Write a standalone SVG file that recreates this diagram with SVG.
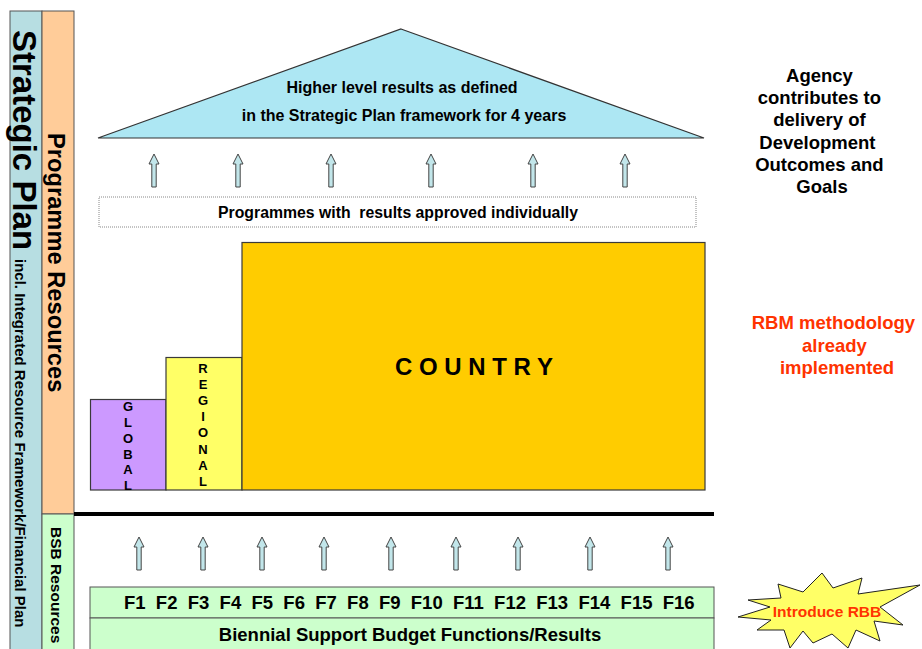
<svg xmlns="http://www.w3.org/2000/svg" width="922" height="649" viewBox="0 0 922 649">
  <style>
    text { font-family: "Liberation Sans", Arial, sans-serif; font-weight: bold; fill: #000; }
    .bar { stroke: #555; stroke-width: 1; }
    .box { stroke: #3a3a3a; stroke-width: 1.2; }
    .mid { text-anchor: middle; }
    .red { fill: #ff3300; }
    .letter { font-size: 13px; text-anchor: middle; }
  </style>
  <defs>
    <!-- block arrow, tip at origin, pointing up -->
    <path id="upArrow" d="M0,0 L5,10 L2.2,10 L2.2,33 L-2.2,33 L-2.2,10 L-5,10 Z" fill="#c2e6ea" stroke="#444" stroke-width="1"/>
  </defs>

  <rect width="922" height="649" fill="#ffffff"/>

  <!-- left resource bars -->
  <g id="strategic-plan-bar">
    <rect class="bar" x="10" y="11" width="32" height="650" fill="#b7dee2"/>
    <text transform="translate(13,30) rotate(90)" font-size="33">Strategic Plan</text>
    <text transform="translate(15,259) rotate(90)" font-size="15">incl. Integrated Resource Framework/Financial Plan</text>
  </g>
  <g id="programme-resources-bar">
    <rect class="bar" x="42" y="11" width="32" height="503" fill="#ffcc99"/>
    <text transform="translate(48,133) rotate(90)" font-size="23.7">Programme Resources</text>
  </g>
  <g id="bsb-resources-bar">
    <rect class="bar" x="42" y="514" width="32" height="147" fill="#ccffcc"/>
    <text transform="translate(51,527) rotate(90)" font-size="15.5">BSB Resources</text>
  </g>

  <!-- strategic plan roof -->
  <g id="higher-level-results">
    <polygon points="401,29 704,138 98,138" fill="#ade7f3" stroke="#333" stroke-width="1.2"/>
    <text class="mid" x="402" y="93" font-size="16">Higher level results as defined</text>
    <text class="mid" x="404" y="121" font-size="16">in the Strategic Plan framework for 4 years</text>
  </g>

  <g id="programmes-box">
    <rect x="99" y="197" width="597" height="30" fill="#fff" stroke="#888" stroke-width="1" stroke-dasharray="1,1"/>
    <text class="mid" x="398" y="218" font-size="15.8" xml:space="preserve">Programmes with  results approved individually</text>
  </g>

  <g id="global">
    <rect class="box" x="90.5" y="399.5" width="75.5" height="90.5" fill="#cc99ff"/>
    <text class="letter" x="128" y="411">G</text>
    <text class="letter" x="128" y="426.5">L</text>
    <text class="letter" x="128" y="442.5">O</text>
    <text class="letter" x="128" y="458.5">B</text>
    <text class="letter" x="128" y="474">A</text>
    <text class="letter" x="128" y="490">L</text>
  </g>
  <g id="regional">
    <rect class="box" x="166" y="357.5" width="76" height="132.5" fill="#ffff66"/>
    <text class="letter" x="203" y="373">R</text>
    <text class="letter" x="203" y="388.5">E</text>
    <text class="letter" x="203" y="405">G</text>
    <text class="letter" x="203" y="421">I</text>
    <text class="letter" x="203" y="437">O</text>
    <text class="letter" x="203" y="453.5">N</text>
    <text class="letter" x="203" y="469.5">A</text>
    <text class="letter" x="203" y="485.5">L</text>
  </g>
  <g id="country">
    <rect class="box" x="242" y="242.5" width="463" height="247.5" fill="#ffcc00"/>
    <text class="mid" x="474" y="375" font-size="24" xml:space="preserve">C O U N T R Y</text>
  </g>

  <!-- divider between programme and support budget -->
  <line x1="74" y1="514" x2="714" y2="514" stroke="#000" stroke-width="4"/>

  <g id="bsb-functions">
    <rect class="bar" x="90" y="587" width="624" height="31" fill="#ccffcc"/>
    <text x="124" y="609" font-size="18.5" xml:space="preserve">F1  F2  F3  F4  F5  F6  F7  F8  F9  F10  F11  F12  F13  F14  F15  F16</text>
  </g>
  <g id="bsb-results">
    <rect class="bar" x="90" y="618" width="624" height="40" fill="#ccffcc"/>
    <text class="mid" x="410" y="641" font-size="18.5">Biennial Support Budget Functions/Results</text>
  </g>

  <g id="agency-note">
    <text class="mid" font-size="18.5">
      <tspan x="822" y="82">Agency</tspan>
      <tspan x="822" y="104">contributes to</tspan>
      <tspan x="822" y="126">delivery of</tspan>
      <tspan x="820" y="149">Development</tspan>
      <tspan x="822" y="171">Outcomes and</tspan>
      <tspan x="822" y="193">Goals</tspan>
    </text>
  </g>
  <g id="rbm-note">
    <text class="mid red" font-size="18.5">
      <tspan x="836" y="329">RBM methodology</tspan>
      <tspan x="837" y="352">already</tspan>
      <tspan x="837" y="374">implemented</tspan>
    </text>
  </g>

  <g id="introduce-rbb">
    <polygon points="738,617 770,607 748,600 781,598 778,584 803,592 822,573 833,588 862,578 858,594 920,585 880,607 903,625 874,621 880,641 856,630 848,648 832,634 813,643 803,631 790,648 784,630 757,630 771,620" fill="#ffff66" stroke="#222" stroke-width="1"/>
    <text class="mid red" x="827" y="617" font-size="15.5">Introduce RBB</text>
  </g>

  <!-- connectors: upward contribution arrows -->
  <g id="connectors">
    <use href="#upArrow" x="154" y="154"/>
    <use href="#upArrow" x="238" y="154"/>
    <use href="#upArrow" x="331" y="154"/>
    <use href="#upArrow" x="431" y="154"/>
    <use href="#upArrow" x="533" y="154"/>
    <use href="#upArrow" x="625" y="154"/>
    <use href="#upArrow" x="139" y="537"/>
    <use href="#upArrow" x="203" y="537"/>
    <use href="#upArrow" x="262" y="537"/>
    <use href="#upArrow" x="324" y="537"/>
    <use href="#upArrow" x="391" y="537"/>
    <use href="#upArrow" x="456" y="537"/>
    <use href="#upArrow" x="518" y="537"/>
    <use href="#upArrow" x="590" y="537"/>
    <use href="#upArrow" x="668" y="537"/>
  </g>
</svg>
